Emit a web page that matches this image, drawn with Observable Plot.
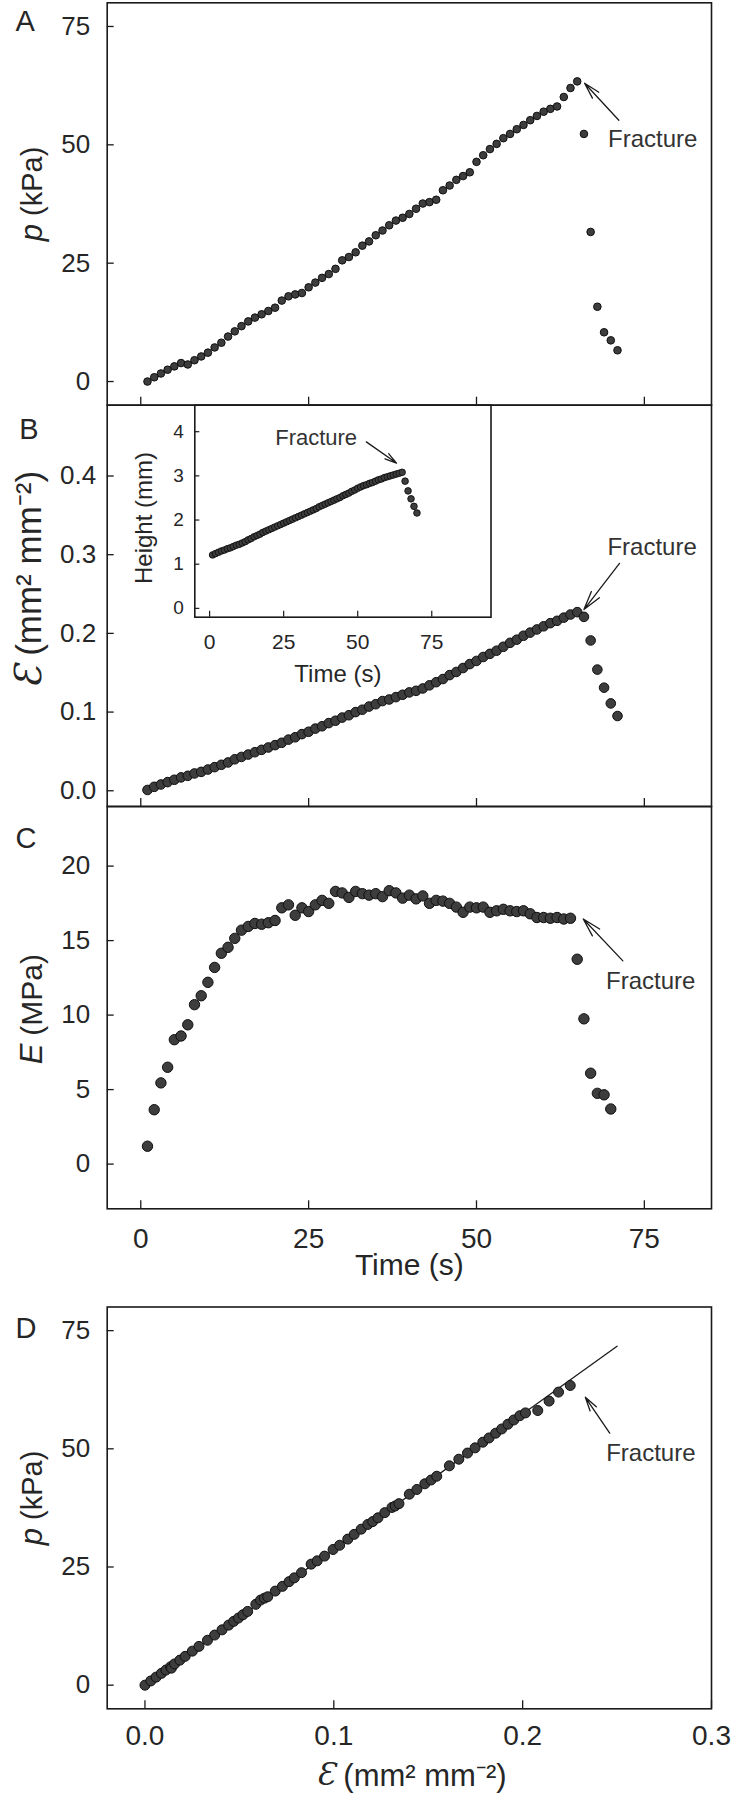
<!DOCTYPE html>
<html>
<head>
<meta charset="utf-8">
<script src="https://cdn.jsdelivr.net/npm/d3@7"></script>
<script src="https://cdn.jsdelivr.net/npm/@observablehq/plot@0.6"></script>
<style>
  html, body { margin: 0; padding: 0; background: #fff; }
  #fig { position: relative; width: 731px; height: 1800px; background: #fff; overflow: hidden; }
  #fig > svg { position: absolute; }
</style>
</head>
<body>
<div id="fig"></div>
<script>
// ---------------- data ----------------
const time = [1,2,3,4,5,6,7,8,9,10,11,12,13,14,15,16,17,18,19,20,21,22,23,24,25,26,27,28,29,30,
  31,32,33,34,35,36,37,38,39,40,41,42,43,44,45,46,47,48,49,50,51,52,53,54,55,56,57,58,59,60,
  61,62,63,64,65,66,67,68,69,70,71];

// Panel A: pressure p (kPa)
const pressure = [0.0,0.9,1.7,2.5,3.2,3.9,3.6,4.5,5.3,6.1,7.2,8.2,9.5,10.6,11.7,12.7,13.5,14.2,14.9,15.6,
  17.1,18.0,18.4,18.7,19.9,20.9,21.9,22.7,23.8,25.6,26.3,27.3,28.7,29.6,30.9,31.9,33.0,34.0,34.6,35.4,
  36.5,37.6,37.9,38.4,40.4,41.4,42.6,43.4,44.2,46.4,47.8,49.1,50.2,51.4,52.3,53.3,54.2,55.2,56.1,57.0,
  57.6,58.1,60.1,62.0,63.4,52.3,31.6,15.8,10.4,8.7,6.6];

// Panel B: area strain (mm2 mm-2)
const strain = [0.001,0.005,0.008,0.011,0.014,0.017,0.019,0.022,0.024,0.027,0.030,0.033,0.036,0.040,0.043,
  0.046,0.049,0.052,0.055,0.058,0.061,0.065,0.068,0.072,0.075,0.079,0.082,0.086,0.089,0.093,
  0.096,0.100,0.103,0.107,0.110,0.114,0.116,0.119,0.122,0.125,0.127,0.130,0.134,0.138,0.142,
  0.147,0.151,0.156,0.161,0.165,0.170,0.174,0.178,0.183,0.188,0.192,0.197,0.201,0.205,0.209,
  0.213,0.216,0.220,0.224,0.227,0.221,0.191,0.154,0.131,0.111,0.095];

// Inset: height (mm)
const heightMm = [1.21,1.24,1.27,1.30,1.32,1.35,1.37,1.40,1.43,1.45,1.48,1.51,1.55,1.58,1.62,1.65,1.68,1.72,1.75,1.78,
  1.81,1.84,1.87,1.90,1.93,1.96,1.99,2.02,2.05,2.08,2.11,2.14,2.17,2.20,2.23,2.26,2.30,2.33,2.36,2.39,
  2.42,2.45,2.48,2.51,2.55,2.58,2.61,2.65,2.68,2.72,2.75,2.78,2.80,2.83,2.85,2.88,2.91,2.93,2.96,2.98,
  3.00,3.02,3.04,3.06,3.08,2.88,2.66,2.48,2.31,2.16];

// Panel C: modulus E (MPa)
const modulus = [1.2,3.65,5.45,6.5,8.35,8.6,9.35,10.7,11.3,12.2,13.2,14.15,14.55,15.15,15.7,15.95,16.15,16.1,16.2,16.35,
  17.2,17.4,16.7,17.2,16.95,17.4,17.7,17.5,18.3,18.2,17.9,18.3,18.15,18.05,18.15,17.95,18.35,18.2,17.85,18.05,
  17.8,18.0,17.5,17.7,17.65,17.5,17.25,16.9,17.25,17.2,17.25,16.9,17.0,17.1,17.0,16.95,17.0,16.8,16.55,16.55,
  16.5,16.55,16.45,16.5,13.75,9.75,6.1,4.75,4.65,3.7];

// Panel D: strain read along the p-vs-strain cloud (pre-fracture points)
const dStrain = [0.0000,0.0031,0.0059,0.0087,0.0111,0.0136,0.0140,0.0157,0.0185,0.0213,0.0251,0.0286,0.0331,0.0369,0.0408,
  0.0443,0.0470,0.0495,0.0519,0.0544,0.0587,0.0612,0.0632,0.0650,0.0690,0.0728,0.0763,0.0791,0.0829,0.0880,
  0.0912,0.0951,0.0996,0.1031,0.1074,0.1108,0.1145,0.1180,0.1206,0.1234,0.1270,0.1308,0.1325,0.1345,0.1400,
  0.1440,0.1482,0.1515,0.1545,0.1612,0.1662,0.1708,0.1748,0.1789,0.1822,0.1857,0.1889,0.1922,0.1953,0.1985,
  0.2015,0.2080,0.2140,0.2190,0.2252];
const dPressure = pressure.slice(0, 65);

// Panel D fitted line
const fitStrain = [0, 0.25];
const fitPressure = [0, 71.7];

// tick values
const timeTicks = [0, 25, 50, 75];
const pTicks = [0, 25, 50, 75];
const strainTicks = [0, 0.1, 0.2, 0.3, 0.4];
const modTicks = [0, 5, 10, 15, 20];
const heightTicks = [0, 1, 2, 3, 4];
const dStrainTicks = [0, 0.1, 0.2, 0.3];

// "Fracture" annotations (data coordinates)
const arrowA = [{x1: 71.2, y1: 55.2, x2: 66.1, y2: 63.0}];
const labelA = [{x: 69.6, y: 51.1, text: "Fracture"}];
const arrowB = [{x1: 71.3, y1: 0.289, x2: 66.0, y2: 0.2303}];
const labelB = [{x: 69.5, y: 0.310, text: "Fracture"}];
const arrowC = [{x1: 71.8, y1: 13.64, x2: 65.9, y2: 16.45}];
const labelC = [{x: 69.3, y: 12.27, text: "Fracture"}];
const arrowD = [{x1: 0.2461, y1: 53.3, x2: 0.2332, y2: 60.9}];
const labelD = [{x: 0.2442, y: 49.0, text: "Fracture"}];
const arrowIn = [{x1: 52.9, y1: 3.77, x2: 63.1, y2: 3.29}];
const labelIn = [{x: 49.8, y: 3.86, text: "Fracture"}];

// ---------------- tables ----------------
const tableA = time.map((t, i) => ({t, v: pressure[i]}));
const tableB = time.map((t, i) => ({t, v: strain[i]}));
const tableIn = heightMm.map((v, i) => ({t: time[i], v}));
const tableC = modulus.map((v, i) => ({t: time[i], v}));
const tableD = dStrain.map((e, i) => ({e, v: dPressure[i]}));
const tableFit = fitStrain.map((e, i) => ({e, v: fitPressure[i]}));

// ---------------- styles ----------------
const INK = "#1a1a1a";
const TXT = "#262626";
const DOTF = "#3d3d3d";
const DOTS = "#0f0f0f";
const FONT = "'Liberation Sans', Arial, Helvetica, sans-serif";
const SVGSTYLE = {fontFamily: FONT, background: "transparent", overflow: "visible", color: INK};

const fig = document.getElementById("fig");
function place(svg, left, top) {
  svg.style.left = left + "px";
  svg.style.top = top + "px";
  fig.appendChild(svg);
}
function frame() { return Plot.frame({stroke: INK, strokeWidth: 1.6}); }
function yAxis(ticks, pad, extra = {}) {
  return Plot.axisY(ticks, {tickSize: -7, tickPadding: pad, fontSize: 26, fill: TXT, strokeWidth: 1.3, label: null, ...extra});
}
function xTicksOnly(ticks) {
  return Plot.axisX(ticks, {tickSize: -8, tickFormat: () => "", strokeWidth: 1.3, label: null});
}
function fracture(arrow, label, opts = {}) {
  return [
    Plot.arrow(arrow, {x1: "x1", y1: "y1", x2: "x2", y2: "y2", stroke: INK, strokeWidth: 1.3, headAngle: 30, headLength: opts.head ?? 28}),
    Plot.text(label, {x: "x", y: "y", text: "text", textAnchor: opts.anchor ?? "start", lineAnchor: "middle", fontSize: opts.size ?? 24, fill: "#333"})
  ];
}
function letter(s, dx, dy) {
  return Plot.text([s], {frameAnchor: "top-left", textAnchor: "start", lineAnchor: "top", dx, dy, fontSize: 29, fill: TXT});
}
function rotLabel(s, dx, dy, anchor, size, extra = {}) {
  return Plot.text([s], {frameAnchor: "left", rotate: -90, textAnchor: anchor, lineAnchor: "bottom", dx, dy, fontSize: size, fill: TXT, ...extra});
}

// ---------------- Panel A ----------------
const plotA = Plot.plot({
  width: 731, height: 406, marginLeft: 106.7, marginRight: 20, marginTop: 2.3, marginBottom: 1.3,
  style: SVGSTYLE,
  x: {domain: [-5, 85], label: null},
  y: {domain: [-5, 80], label: null},
  marks: [
    frame(),
    yAxis(pTicks, 24),
    xTicksOnly(timeTicks),
    Plot.dot(tableA, {x: "t", y: "v", r: 3.8, fill: DOTF, stroke: DOTS, strokeWidth: 1}),
    ...fracture(arrowA, labelA),
    letter("A", -91.7, 7.7),
    rotLabel("(kPa)", -65.7, 12, "start", 29),
    rotLabel("p", -65.7, 20, "end", 31, {fontStyle: "italic"})
  ]
});
place(plotA, 0, 0);

// ---------------- Panel B ----------------
const plotB = Plot.plot({
  width: 731, height: 405, marginLeft: 106.7, marginRight: 20, marginTop: 1.7, marginBottom: 2,
  style: SVGSTYLE,
  x: {domain: [-5, 85], label: null},
  y: {domain: [-0.02, 0.49], label: null},
  marks: [
    frame(),
    yAxis(strainTicks, 18, {tickFormat: ".1f"}),
    xTicksOnly(timeTicks),
    Plot.dot(tableB, {x: "t", y: "v", r: 4.8, fill: DOTF, stroke: DOTS, strokeWidth: 1}),
    ...fracture(arrowB, labelB),
    letter("B", -88, 13.3),
    rotLabel("(mm\u00B2 mm\u207B\u00B2)", -66.7, 50, "start", 35),
    rotLabel("\u0190", -66.7, 59, "end", 37, {fontStyle: "italic", fontFamily: "'DejaVu Serif', serif"})
  ]
});
place(plotB, 0, 403);

// ---------------- Inset (height vs time) ----------------
const plotIn = Plot.plot({
  width: 400, height: 290, marginLeft: 94.3, marginRight: 9.5, marginTop: 1.7, marginBottom: 76.3,
  style: SVGSTYLE,
  x: {domain: [-5, 95], label: null},
  y: {domain: [-0.2, 4.6], label: null},
  marks: [
    frame(),
    Plot.axisY(heightTicks, {tickSize: -5, tickPadding: 16, fontSize: 19, fill: TXT, strokeWidth: 1.2, label: null}),
    Plot.axisX(timeTicks, {tickSize: -6, tickPadding: 22.6, fontSize: 21, fill: TXT, strokeWidth: 1.2, label: null}),
    Plot.dot(tableIn, {x: "t", y: "v", r: 3.3, fill: DOTF, stroke: DOTS, strokeWidth: 0.9}),
    ...fracture(arrowIn, labelIn, {anchor: "end", size: 22, head: 16}),
    Plot.text(["Time (s)"], {frameAnchor: "bottom", lineAnchor: "bottom", dx: -5, dy: 65, fontSize: 24, fill: TXT}),
    rotLabel("Height (mm)", -42.4, 6.8, "middle", 24)
  ]
});
place(plotIn, 100, 403);

// ---------------- Panel C ----------------
const plotC = Plot.plot({
  width: 731, height: 480, marginLeft: 106.7, marginRight: 20, marginTop: 2, marginBottom: 75.7,
  style: SVGSTYLE,
  x: {domain: [-5, 85], label: null},
  y: {domain: [-3, 24], label: null},
  marks: [
    frame(),
    yAxis(modTicks, 24),
    Plot.axisX(timeTicks, {tickSize: -8, tickPadding: 27, fontSize: 28, fill: TXT, strokeWidth: 1.3, label: null}),
    Plot.dot(tableC, {x: "t", y: "v", r: 5.2, fill: DOTF, stroke: DOTS, strokeWidth: 1}),
    ...fracture(arrowC, labelC),
    letter("C", -91.7, 20.7),
    Plot.text(["Time (s)"], {frameAnchor: "bottom", lineAnchor: "bottom", dy: 66.2, fontSize: 30, fill: TXT}),
    rotLabel("(MPa)", -65.7, 28, "start", 30),
    rotLabel("E", -65.7, 36, "end", 31, {fontStyle: "italic"})
  ]
});
place(plotC, 0, 804);

// ---------------- Panel D ----------------
const plotD = Plot.plot({
  width: 731, height: 500, marginLeft: 106.7, marginRight: 20, marginTop: 6.5, marginBottom: 91.7,
  style: SVGSTYLE,
  x: {domain: [-0.02, 0.3], label: null},
  y: {domain: [-5, 80], label: null},
  marks: [
    frame(),
    yAxis(pTicks, 24),
    Plot.axisX(dStrainTicks, {tickSize: -8, tickPadding: 24.7, fontSize: 28, fill: TXT, strokeWidth: 1.3, label: null, tickFormat: ".1f"}),
    Plot.line(tableFit, {x: "e", y: "v", stroke: INK, strokeWidth: 1.3}),
    Plot.dot(tableD, {x: "e", y: "v", r: 5, fill: DOTF, stroke: DOTS, strokeWidth: 1}),
    ...fracture(arrowD, labelD),
    letter("D", -91.7, 10.2),
    Plot.text(["(mm\u00B2 mm\u207B\u00B2)"], {frameAnchor: "bottom", textAnchor: "start", lineAnchor: "bottom", dx: -66, dy: 77, fontSize: 31, fill: TXT}),
    Plot.text(["\u0190"], {frameAnchor: "bottom", textAnchor: "end", lineAnchor: "bottom", dx: -74, dy: 76, fontSize: 31, fill: TXT, fontStyle: "italic", fontFamily: "'DejaVu Serif', serif"}),
    rotLabel("(kPa)", -65.7, 12, "start", 29),
    rotLabel("p", -65.7, 20, "end", 31, {fontStyle: "italic"})
  ]
});
place(plotD, 0, 1300);
</script>
</body>
</html>
